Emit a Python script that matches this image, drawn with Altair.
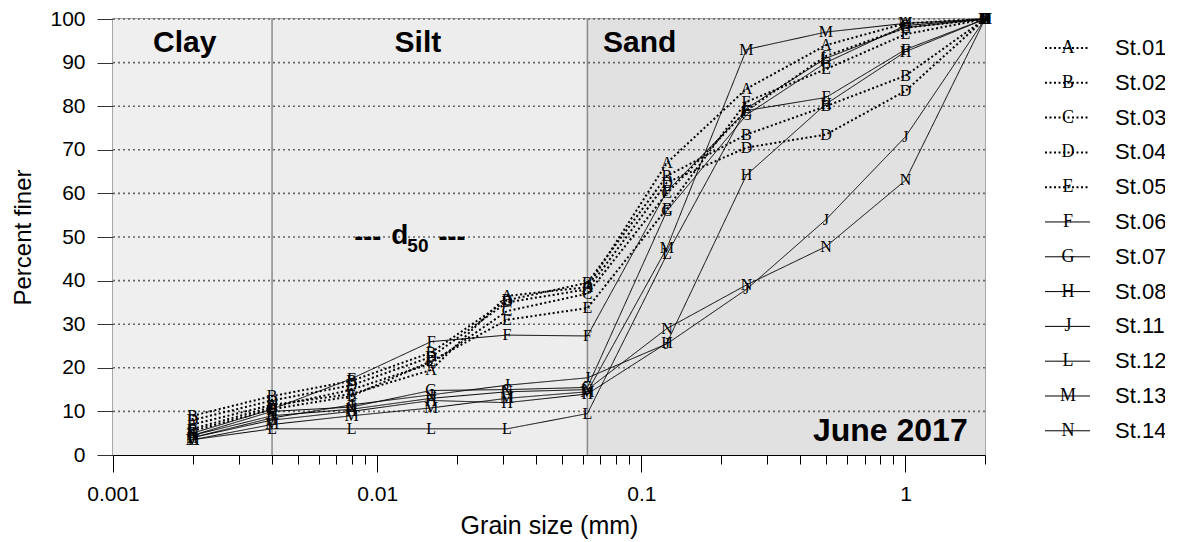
import altair as alt
import pandas as pd

# ---------------- data ----------------
sizes = [0.002, 0.004, 0.008, 0.016, 0.031, 0.0625, 0.125, 0.25, 0.5, 1, 2]
stations = ["St.01", "St.02", "St.03", "St.04", "St.05", "St.06",
            "St.07", "St.08", "St.11", "St.12", "St.13", "St.14"]
letters = ["A", "B", "C", "D", "E", "F", "G", "H", "J", "L", "M", "N"]
styles = ["dot"] * 5 + ["solid"] * 7

st01 = [7, 11.5, 14, 19.5, 36.5, 38.5, 67, 84, 94, 99, 100]
st02 = [9, 13.5, 17, 23.5, 35.5, 39.5, 64, 73.5, 80, 87, 100]
st03 = [6, 11, 15, 21, 33, 37, 60, 79, 91.5, 98, 100]
st04 = [8, 12.5, 16, 22.5, 35, 38, 62.5, 70.5, 73.5, 83.5, 100]
st05 = [5.5, 10.5, 13.5, 21.5, 31, 33.7, 56.5, 81, 88.5, 96.5, 100]
st06 = [5, 10.5, 17.5, 26, 27.5, 27.3, 60.5, 79, 82, 93, 100]
st07 = [4.5, 10, 11, 14.8, 15, 15.5, 56, 78, 90, 98.5, 100]
st08 = [4, 8, 10, 12.5, 12, 14, 25.7, 64.2, 80.5, 92.5, 100]
st11 = [4, 8.5, 11.5, 13.8, 16, 17.7, 25.5, 38, 54, 73, 100]
st12 = [3.5, 6, 6, 6, 6, 9.5, 46, 79.5, 91, 98, 100]
st13 = [3.5, 7, 9, 10.8, 13, 14.5, 47.5, 93, 97, 99, 100]
st14 = [4.5, 9, 10.5, 13, 14.5, 15, 29, 39, 47.8, 63, 100]
series = [st01, st02, st03, st04, st05, st06, st07, st08, st11, st12, st13, st14]

zone_names = ["Clay", "Silt", "Sand"]
zone_start = [0.001, 0.004, 0.0625]
zone_end = [0.004, 0.0625, 2]
zone_fill = ["#efefef", "#ededed", "#e1e1e1"]
zone_label_x = [0.00187, 0.01426, 0.0986]
zone_label_y = [94.5, 94.5, 94.5]
boundaries = [0.004, 0.0625]
grid_levels = [10, 20, 30, 40, 50, 60, 70, 80, 90, 100]
major_ticks = [0.001, 0.01, 0.1, 1]
minor_ticks = [0.002, 0.003, 0.004, 0.005, 0.006, 0.007, 0.008, 0.009,
               0.02, 0.03, 0.04, 0.05, 0.06, 0.07, 0.08, 0.09,
               0.2, 0.3, 0.4, 0.5, 0.6, 0.7, 0.8, 0.9, 2]
y_ticks = [0, 10, 20, 30, 40, 50, 60, 70, 80, 90, 100]

rows = []
for st, let, sty, vals in zip(stations, letters, styles, series):
    for s, v in zip(sizes, vals):
        rows.append({"station": st, "letter": let, "style": sty, "size": s, "pct": v})
df = pd.DataFrame(rows)

zones = pd.DataFrame({"zone": zone_names, "x0": zone_start, "x1": zone_end,
                      "y0": [0] * 3, "y1": [100] * 3, "fill": zone_fill,
                      "lx": zone_label_x, "ly": zone_label_y})
legend_df = pd.DataFrame({"station": stations, "letter": letters, "style": styles,
                          "pos": [i + 0.833 for i in range(len(stations))]})

SANS = "Liberation Sans"
SERIF = "Liberation Serif"

xscale = alt.Scale(type="log", domain=[0.001, 2], nice=False)
yscale = alt.Scale(domain=[0, 100], nice=False, zero=False)
dash_scale = alt.Scale(domain=["dot", "solid"], range=[[2, 2.5], [1, 0]])
width_scale = alt.Scale(domain=["dot", "solid"], range=[2, 1])

major_test = "indexof([0.001,0.01,0.1,1], datum.value) >= 0"
x_axis = alt.Axis(
    title="Grain size (mm)", values=major_ticks + minor_ticks,
    labelExpr=f"{major_test} ? datum.label : ''", format="~g",
    tickSize={"condition": {"test": major_test, "value": 17}, "value": 9},
    tickColor="black", domainColor="black", labelColor="black",
    labelFont=SANS, labelFontSize=21, labelPadding=11, labelFlush=False,
    titleFont=SANS, titleFontSize=25, titleFontWeight="normal", titleColor="black",
    titlePadding=9, grid=False, labelOverlap=False,
)
y_axis = alt.Axis(
    title="Percent finer", values=y_ticks, tickSize=16, tickColor="#333",
    domainColor="black", labelColor="black", labelFont=SANS, labelFontSize=21,
    labelPadding=12, titleFont=SANS, titleFontSize=24, titleFontWeight="normal",
    titleColor="black", titlePadding=14, grid=False,
)


def X(field):
    return alt.X(field, scale=xscale, axis=x_axis)


def Y(field):
    return alt.Y(field, scale=yscale, axis=y_axis)


bg = alt.Chart(zones).mark_rect().encode(
    x=X("x0:Q"), x2="x1", y=Y("y0:Q"), y2="y1",
    fill=alt.Fill("fill:N", scale=None),
)

grid = alt.Chart(pd.DataFrame({"g": grid_levels})).mark_rule(
    color="#666666", strokeDash=[2, 3], strokeWidth=1.6
).encode(y=Y("g:Q"))

bounds = alt.Chart(pd.DataFrame({"b": boundaries})).mark_rule(
    color="#8a8a8a", strokeWidth=1.5
).encode(x=X("b:Q"))

lines = alt.Chart(df).mark_line(color="black").encode(
    x=X("size:Q"), y=Y("pct:Q"),
    detail="station:N",
    strokeDash=alt.StrokeDash("style:N", scale=dash_scale, legend=None),
    strokeWidth=alt.StrokeWidth("style:N", scale=width_scale, legend=None),
)

marks = alt.Chart(df).mark_text(font=SERIF, fontSize=16, color="black",
                                baseline="middle", align="center").encode(
    x=X("size:Q"), y=Y("pct:Q"), text="letter:N",
)

zone_text = alt.Chart(zones).mark_text(font=SANS, fontSize=30, fontWeight="bold",
                                       color="black", baseline="middle").encode(
    x=X("lx:Q"), y=Y("ly:Q"), text="zone:N",
)

d50_df = pd.DataFrame({
    "t": ["---", "d", "50", "---"],
    "x": [0.00922, 0.01219, 0.01426, 0.01918],
    "y": [49.8, 50.3, 48.0, 49.8],
    "fs": [27, 28, 19, 27],
})
d50 = alt.Chart(d50_df).mark_text(font=SANS, fontWeight="bold", color="black",
                                  baseline="middle").encode(
    x=X("x:Q"), y=Y("y:Q"), text="t:N",
    size=alt.Size("fs:Q", scale=None, legend=None),
)

june = alt.Chart(pd.DataFrame({"t": ["June 2017"], "x": [1.72], "y": [5.5]})).mark_text(
    font=SANS, fontSize=32, fontWeight="bold", color="black", align="right", baseline="middle"
).encode(x=X("x:Q"), y=Y("y:Q"), text="t:N")

main = alt.layer(bg, grid, bounds, lines, marks, zone_text, d50, june)

leg_y = alt.Y("pos:Q", scale=alt.Scale(domain=[0, 12.529], reverse=True, nice=False, zero=True), axis=None)
leg_lines = alt.Chart(legend_df).mark_rule(color="black").encode(
    x=alt.value(932), x2=alt.value(977), y=leg_y,
    strokeDash=alt.StrokeDash("style:N", scale=dash_scale, legend=None),
    strokeWidth=alt.StrokeWidth("style:N", scale=width_scale, legend=None),
)
leg_letters = alt.Chart(legend_df).mark_text(font=SERIF, fontSize=18, color="black",
                                             baseline="middle", align="center").encode(
    x=alt.value(955), y=leg_y, text="letter:N")
leg_labels = alt.Chart(legend_df).mark_text(font=SANS, fontSize=22, color="black",
                                            baseline="middle", align="left").encode(
    x=alt.value(1002), y=leg_y, text="station:N")
legend = alt.layer(leg_lines, leg_letters, leg_labels)

chart = alt.layer(main, legend).resolve_scale(y="independent").properties(
    width=872, height=436,
    autosize=alt.AutoSizeParams(type="none"),
    padding={"left": 105, "top": 11, "right": 180, "bottom": 87},
    background="white",
).configure_view(stroke="#8a8a8a", strokeWidth=1.5)

chart.save("out.html", embed_options={"renderer": "svg", "actions": False})
